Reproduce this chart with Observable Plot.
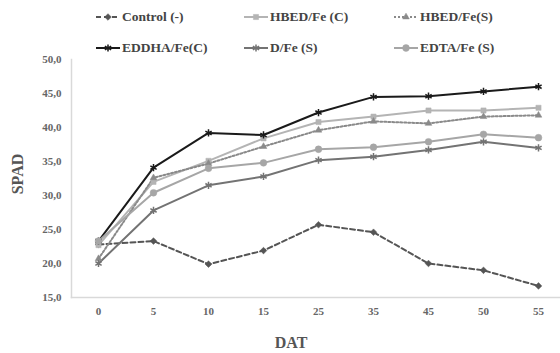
<!DOCTYPE html>
<html>
<head>
<meta charset="utf-8">
<script src="https://cdn.jsdelivr.net/npm/d3@7"></script>
<script src="https://cdn.jsdelivr.net/npm/@observablehq/plot@0.6"></script>
<style>
  html, body { margin: 0; padding: 0; background: #fff; }
  #wrap { position: relative; width: 560px; height: 353px; }
  #legend { position: absolute; left: 0; top: 0; width: 560px; height: 60px; }
  .item { position: absolute; display: flex; align-items: center; font-family: "Liberation Serif", "DejaVu Serif", serif; font-weight: bold; font-size: 13.5px; color: #444; white-space: nowrap; }
  .item svg { margin-right: 1px; }
  #plot svg { display: block; }
</style>
</head>
<body>
<div id="wrap">
  <div id="plot"></div>
  <div id="legend"></div>
</div>
<script>
const days = ["0", "5", "10", "15", "25", "35", "45", "50", "55"];
const seriesNames = ["Control (-)", "HBED/Fe (C)", "HBED/Fe(S)", "EDDHA/Fe(C)", "D/Fe (S)", "EDTA/Fe (S)"];
const control   = [22.8, 23.3, 19.9, 21.9, 25.7, 24.6, 20.0, 19.0, 16.7];
const hbedC     = [22.7, 32.0, 35.1, 38.4, 40.8, 41.6, 42.5, 42.5, 42.9];
const hbedS     = [20.7, 32.6, 34.7, 37.2, 39.6, 40.9, 40.6, 41.6, 41.8];
const eddhaC    = [23.3, 34.1, 39.2, 38.9, 42.2, 44.5, 44.6, 45.3, 46.0];
const dfeS      = [20.0, 27.8, 31.5, 32.8, 35.2, 35.7, 36.7, 37.9, 37.0];
const edtaS     = [23.3, 30.4, 34.0, 34.8, 36.8, 37.1, 37.9, 39.0, 38.5];
const yTicks    = [15, 20, 25, 30, 35, 40, 45, 50];

const valuesList = [control, hbedC, hbedS, eddhaC, dfeS, edtaS];

// styles per series (order matches seriesNames)
const styles = [
  {color: "#555555", dash: "5,3", symbol: "diamond2", filled: true, r: 3},
  {color: "#b4b4b4", dash: null, symbol: "square2", filled: true, r: 3.3},
  {color: "#8a8a8a", dash: "2,2", symbol: "triangle2", filled: true, r: 3.2},
  {color: "#1a1a1a", dash: null, symbol: "asterisk", filled: false, r: 3.4},
  {color: "#737373", dash: null, symbol: "asterisk", filled: false, r: 3.4},
  {color: "#a6a6a6", dash: null, symbol: "circle", filled: true, r: 3.4}
];

const data = [];
seriesNames.forEach((name, i) => {
  days.forEach((d, j) => data.push({series: name, day: d, value: valuesList[i][j]}));
});

const fmt = d => d.toFixed(1).replace(".", ",");

const marks = [
  Plot.frame({anchor: "left", stroke: "#d9d9d9", strokeWidth: 1.5}),
  Plot.frame({anchor: "bottom", stroke: "#d9d9d9", strokeWidth: 1.5}),
  Plot.axisY({ticks: yTicks, tickSize: 0, tickPadding: 10, tickFormat: fmt, label: null,
    fontSize: 11, fontWeight: "bold", fill: "#666"}),
  Plot.axisX({tickSize: 0, tickPadding: 10, label: null, fontSize: 11, fontWeight: "bold", fill: "#666"})
];

seriesNames.forEach((name, i) => {
  const s = styles[i];
  const sub = data.filter(d => d.series === name);
  marks.push(Plot.line(sub, {x: "day", y: "value", stroke: s.color, strokeWidth: 2,
    strokeDasharray: s.dash, curve: "linear"}));
});
seriesNames.forEach((name, i) => {
  const s = styles[i];
  const sub = data.filter(d => d.series === name);
  marks.push(Plot.dot(sub, {x: "day", y: "value", symbol: () => s.symbol, r: s.r,
    fill: s.filled ? s.color : "none", stroke: s.color, strokeWidth: s.filled ? 0.5 : 1.5}));
});

const chart = Plot.plot({
  width: 560,
  height: 353,
  marginTop: 59,
  marginBottom: 56,
  marginLeft: 71,
  marginRight: 0,
  style: {fontFamily: "Liberation Serif, serif", background: "#fff"},
  x: {type: "point", domain: days, range: [97, 538], padding: 0, axis: null},
  y: {domain: [15, 50], axis: null},
  symbol: {type: "identity"},
  marks
});

// axis titles
const svg = d3.select(chart);
svg.append("text").attr("x", 291).attr("y", 348).attr("text-anchor", "middle")
  .attr("font-size", 16).attr("font-weight", "bold").attr("fill", "#555").text("DAT");
svg.append("text").attr("transform", "translate(23,174) rotate(-90)").attr("text-anchor", "middle")
  .attr("font-size", 16).attr("font-weight", "bold").attr("fill", "#555").text("SPAD");

document.getElementById("plot").appendChild(chart);

// legend
const legend = document.getElementById("legend");
const legendPos = [[95, 17], [243, 17], [393, 17], [95, 48], [243, 48], [393, 48]];
const symMap = {diamond2: d3.symbolDiamond2, square2: d3.symbolSquare2, triangle2: d3.symbolTriangle2,
  asterisk: d3.symbolAsterisk, circle: d3.symbolCircle};
seriesNames.forEach((name, i) => {
  const s = styles[i];
  const div = document.createElement("div");
  div.className = "item";
  div.style.left = legendPos[i][0] + "px";
  div.style.top = (legendPos[i][1] - 9) + "px";
  div.style.height = "18px";
  const sw = d3.create("svg").attr("width", 26).attr("height", 12);
  sw.append("line").attr("x1", 1).attr("x2", 25).attr("y1", 6).attr("y2", 6)
    .attr("stroke", s.color).attr("stroke-width", 2).attr("stroke-dasharray", s.dash);
  const sym = d3.symbol().type(symMap[s.symbol]).size(Math.PI * s.r * s.r);
  sw.append("path").attr("d", sym()).attr("transform", "translate(13,6)")
    .attr("fill", s.filled ? s.color : "none").attr("stroke", s.color)
    .attr("stroke-width", s.filled ? 0.5 : 1.5);
  div.appendChild(sw.node());
  const span = document.createElement("span");
  span.textContent = name;
  div.appendChild(span);
  legend.appendChild(div);
});
</script>
</body>
</html>
